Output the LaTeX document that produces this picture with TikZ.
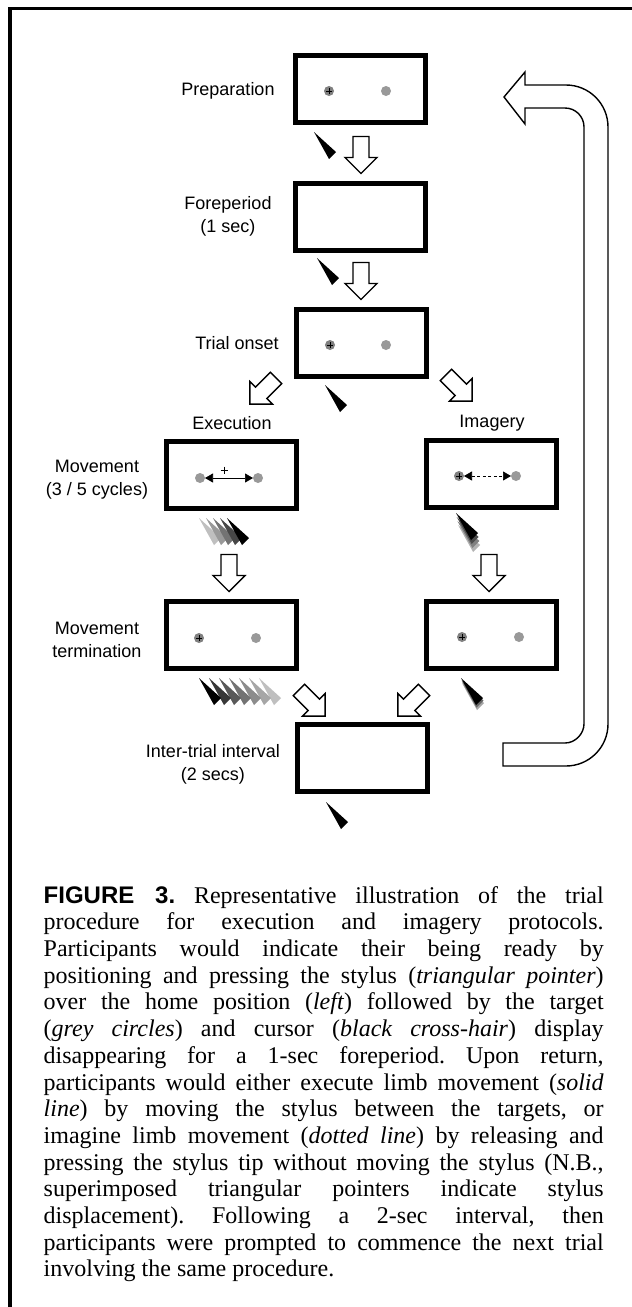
\documentclass[tikz,border=0pt]{standalone}
\usepackage{fontspec}
\setmainfont{Liberation Serif}
\setsansfont{Liberation Sans}
\usetikzlibrary{arrows.meta}

\newcommand\capline[1]{\makebox[560pt][s]{#1}\\}

\tikzset{
  pics/stylus/.style={code={\fill[fill=#1] (0,0) -- (22,20) -- (15,27) -- cycle;}},
  pics/stylus/.default=black,
  pics/fatarrow/.style={code={\draw[line width=1.4pt,fill=white,line join=miter]
      (-18.5,-8) -- (2.5,-8) -- (2.5,-16) -- (18.5,0) -- (2.5,16) -- (2.5,8) -- (-18.5,8) -- cycle;}},
  pics/cursor/.style={code={\fill[black!50] (0,0) circle (5);
      \draw[line width=0.9pt] (-3,0) -- (3,0) (0,-3) -- (0,3);}},
}

\begin{document}
\begin{tikzpicture}[x=1pt,y=-1pt,
    screen/.style={draw,line width=5pt,minimum width=130pt,minimum height=67pt,inner sep=0pt},
    lbl/.style={font=\sffamily\fontsize{18}{23}\selectfont,align=center,inner sep=0pt},
    target/.style={fill=black!40},
    tips/.style={{Triangle[length=8pt,width=9pt]}-{Triangle[length=8pt,width=9pt]}}]
    \useasboundingbox (0,0) rectangle (632,1307);
    \fill[white] (0,0) rectangle (632,1307);
    \draw[line width=3.5pt] (10,1307) -- (10,8.5) -- (632,8.5);

    % screens
    \node[screen] (prep) at (360,89) {};
    \node[screen] (fore) at (360,217) {};
    \node[screen] (onset) at (361,343) {};
    \node[screen] (exec) at (231,475) {};
    \node[screen] (imag) at (491,474) {};
    \node[screen] (termL) at (231,635) {};
    \node[screen] (termR) at (491,635) {};
    \node[screen] (iti) at (362,758) {};

    % labels
    \node[lbl] (lprep) at (228,91) {Preparation};
    \node[lbl] (lfore) at (228,216) {Foreperiod\\(1 sec)};
    \node[lbl] (lonset) at (237,343) {Trial onset};
    \node[lbl] (lexec) at (232,423) {Execution};
    \node[lbl] (limag) at (492,423) {Imagery};
    \node[lbl] (lmove) at (97,480) {Movement\\(3 / 5 cycles)};
    \node[lbl] (lterm) at (97,640) {Movement\\termination};
    \node[lbl] (liti) at (213,764) {Inter-trial interval\\(2 secs)};

    % targets and cursor
    \pic at (329,91) {cursor};
    \fill[target] (386,91) circle (5);
    \pic at (330,345) {cursor};
    \fill[target] (386,345) circle (5);
    \fill[target] (200,478) circle (5) (258,478) circle (5);
    \draw[tips,line width=0.7pt] (205,478) -- (253,478);
    \draw[line width=0.8pt] (220.5,470) -- (227.5,470) (224,466.5) -- (224,473.5);
    \pic at (459,476) {cursor};
    \fill[target] (516,476) circle (5);
    \draw[tips,line width=0.7pt,dash pattern=on 3pt off 2.5pt] (464,476) -- (511,476);
    \pic at (199,638) {cursor};
    \fill[target] (256,638) circle (5);
    \pic at (462,637) {cursor};
    \fill[target] (519,637) circle (5);

    % block arrows
    \pic[rotate=-90] at (361,155) {fatarrow};
    \pic[rotate=-90] at (361,281) {fatarrow};
    \pic[rotate=-135] at (263,391) {fatarrow};
    \pic[rotate=-45] at (459,388) {fatarrow};
    \pic[rotate=-90] at (229,573) {fatarrow};
    \pic[rotate=-90] at (489,573) {fatarrow};
    \pic[rotate=-45] at (312,703) {fatarrow};
    \pic[rotate=-135] at (411,703) {fatarrow};

    % stylus
    \pic at (314,132) {stylus};
    \pic at (317,258) {stylus};
    \pic at (325,385) {stylus};
    \pic at (326,802) {stylus};
    \foreach \i/\col in {0/black!25,1/black!40,2/black!55,3/black!72,4/black}
        \pic at ({199+7*\i},518) {stylus=\col};
    \foreach \i/\col in {3/black!30,2/black!50,1/black!70,0/black}
        \pic at ({456+0.7*\i},{513+4*\i}) {stylus=\col};
    \foreach \i/\col in {6/black!25,5/black!35,4/black!45,3/black!55,2/black!65,1/black!78,0/black}
        \pic at ({199+10*\i},678) {stylus=\col};
    \foreach \i/\col in {2/black!35,1/black!60,0/black}
        \pic at ({461+0.5*\i},{678+2.5*\i}) {stylus=\col};

    % return arrow
    \draw[line width=1.4pt,line join=miter] (504,97) -- (525,72) -- (525,85) -- (566,85)
        .. controls (589.2,85) and (608,103.8) .. (608,127) -- (608,724)
        .. controls (608,747.2) and (589.2,766) .. (566,766) -- (503,766) -- (503,743) -- (565,743)
        .. controls (575.5,743) and (584,733.5) .. (584,724) -- (584,127)
        .. controls (584,116.5) and (575.5,108) .. (565,108) -- (525,108) -- (525,124) -- cycle;

    % caption
    \node[anchor=north west,inner sep=0pt,align=left,font=\fontsize{24}{26.7}\selectfont\frenchspacing] (cap) at (43.5,886) {%
        \capline{{\sffamily\bfseries FIGURE 3.} Representative illustration of the trial}
        \capline{procedure for execution and imagery protocols.}
        \capline{Participants would indicate their being ready by}
        \capline{positioning and pressing the stylus (\textit{triangular pointer})}
        \capline{over the home position (\textit{left}) followed by the target}
        \capline{(\textit{grey circles}) and cursor (\textit{black cross-hair}) display}
        \capline{disappearing for a 1-sec foreperiod. Upon return,}
        \capline{participants would either execute limb movement (\textit{solid}}
        \capline{\textit{line}) by moving the stylus between the targets, or}
        \capline{imagine limb movement (\textit{dotted line}) by releasing and}
        \capline{pressing the stylus tip without moving the stylus (N.B.,}
        \capline{superimposed triangular pointers indicate stylus}
        \capline{displacement). Following a 2-sec interval, then}
        \capline{participants were prompted to commence the next trial}
        involving the same procedure.};
\end{tikzpicture}
\end{document}
